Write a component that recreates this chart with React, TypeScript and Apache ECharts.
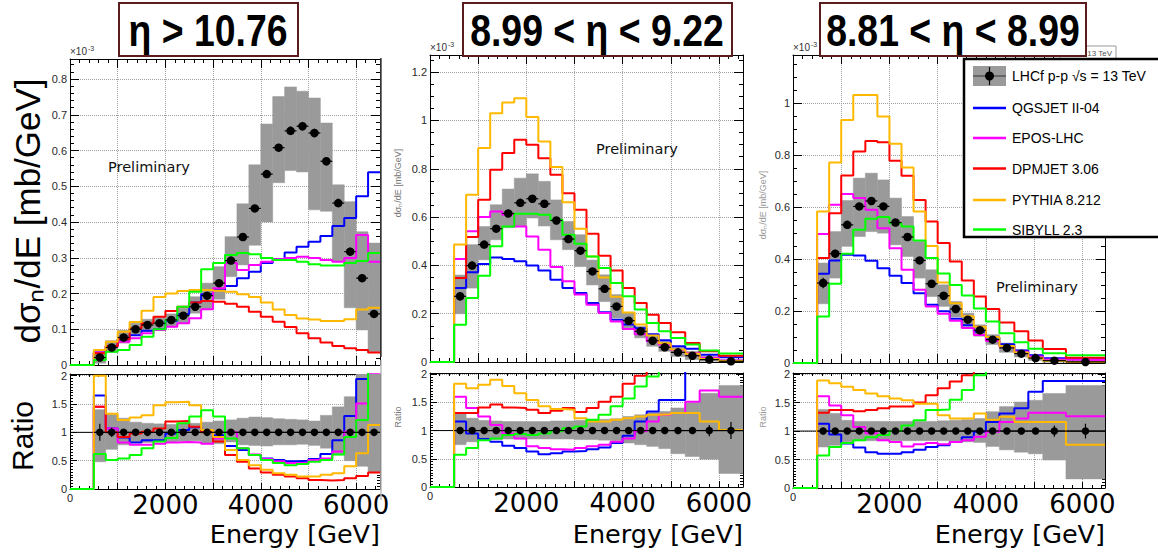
import React, { useEffect, useRef } from "react";
import * as echarts from "echarts";

// ---------------- data ----------------
const MODEL_NAMES = ["QGSJET II-04", "EPOS-LHC", "DPMJET 3.06", "PYTHIA 8.212", "SIBYLL 2.3"];
const MODEL_COLORS = ["#0000ff", "#ff00ff", "#ff0000", "#ffb900", "#00ff00"];
const DATA_LABEL = "LHCf p-p √s = 13 TeV";
const PANEL_TITLES = ["η > 10.76", "8.99 < η < 9.22", "8.81 < η < 8.99"];
const X_TICK_LABELS = [2000, 4000, 6000];

// Panel 1 : eta > 10.76  (units 1e-3 mb/GeV)
const P1_EDGES = [500, 750, 1000, 1250, 1500, 1750, 2000, 2250, 2500, 2750, 3000, 3250, 3500, 3750, 4000, 4250, 4500, 4750, 5000, 5250, 5500, 5750, 6000, 6250, 6500];
const P1_DATA = [0.021, 0.049, 0.077, 0.100, 0.112, 0.117, 0.126, 0.138, 0.163, 0.194, 0.229, 0.292, 0.358, 0.438, 0.534, 0.608, 0.655, 0.668, 0.649, 0.570, 0.453, 0.317, 0.243, 0.143];
const P1_ERR = [0.006, 0.006, 0.006, 0.006, 0.006, 0.006, 0.007, 0.007, 0.007, 0.008, 0.008, 0.009, 0.009, 0.010, 0.010, 0.011, 0.012, 0.012, 0.012, 0.012, 0.012, 0.012, 0.011, 0.010];
const P1_SYS_LO = [0.005, 0.035, 0.061, 0.085, 0.093, 0.098, 0.107, 0.117, 0.145, 0.155, 0.184, 0.247, 0.280, 0.335, 0.400, 0.510, 0.544, 0.540, 0.434, 0.430, 0.290, 0.160, 0.098, 0.037];
const P1_SYS_HI = [0.037, 0.068, 0.097, 0.117, 0.128, 0.134, 0.143, 0.159, 0.191, 0.229, 0.275, 0.359, 0.451, 0.560, 0.674, 0.751, 0.778, 0.766, 0.747, 0.677, 0.504, 0.457, 0.373, 0.341];
const P1_QGSJET = [0.035, 0.053, 0.071, 0.083, 0.096, 0.100, 0.124, 0.142, 0.175, 0.198, 0.210, 0.221, 0.243, 0.261, 0.285, 0.296, 0.315, 0.331, 0.345, 0.361, 0.389, 0.411, 0.472, 0.539];
const P1_EPOS = [0.035, 0.051, 0.065, 0.075, 0.089, 0.098, 0.107, 0.117, 0.131, 0.156, 0.215, 0.285, 0.266, 0.280, 0.289, 0.296, 0.299, 0.303, 0.299, 0.294, 0.289, 0.299, 0.364, 0.289];
const P1_DPMJET = [0.033, 0.053, 0.072, 0.103, 0.117, 0.135, 0.151, 0.163, 0.175, 0.179, 0.177, 0.171, 0.163, 0.149, 0.135, 0.121, 0.106, 0.089, 0.075, 0.063, 0.053, 0.047, 0.042, 0.035];
const P1_PYTHIA = [0.042, 0.065, 0.093, 0.120, 0.152, 0.190, 0.200, 0.207, 0.210, 0.210, 0.208, 0.205, 0.198, 0.190, 0.175, 0.155, 0.140, 0.130, 0.127, 0.123, 0.123, 0.128, 0.155, 0.160];
const P1_SIBYLL = [0.014, 0.037, 0.042, 0.056, 0.079, 0.100, 0.126, 0.163, 0.205, 0.268, 0.285, 0.308, 0.313, 0.310, 0.299, 0.294, 0.294, 0.289, 0.282, 0.278, 0.278, 0.285, 0.291, 0.313];
const P1_R_QGSJET = [1.65, 1.07, 0.91, 0.82, 0.86, 0.86, 0.98, 1.04, 1.09, 1.01, 0.95, 0.76, 0.69, 0.60, 0.54, 0.51, 0.49, 0.50, 0.53, 0.62, 0.86, 1.29, 1.94, 3.70];
const P1_R_EPOS = [1.45, 1.07, 0.82, 0.78, 0.78, 0.80, 0.82, 0.83, 0.82, 0.80, 0.89, 1.00, 0.72, 0.61, 0.53, 0.49, 0.46, 0.46, 0.51, 0.54, 0.66, 1.01, 1.51, 2.05];
const P1_R_DPMJET = [1.45, 1.00, 0.92, 0.98, 1.01, 1.07, 1.19, 1.20, 1.10, 1.00, 0.84, 0.60, 0.48, 0.36, 0.29, 0.25, 0.22, 0.19, 0.16, 0.15, 0.16, 0.19, 0.23, 0.29];
const P1_R_PYTHIA = [2.00, 1.33, 1.22, 1.26, 1.30, 1.48, 1.53, 1.54, 1.48, 1.04, 0.92, 0.69, 0.51, 0.42, 0.34, 0.28, 0.25, 0.22, 0.22, 0.25, 0.28, 0.40, 0.63, 1.13];
const P1_R_SIBYLL = [0.62, 0.51, 0.54, 0.60, 0.72, 0.84, 0.90, 1.16, 1.28, 1.39, 1.28, 0.89, 0.72, 0.60, 0.51, 0.46, 0.42, 0.44, 0.48, 0.51, 0.61, 0.92, 1.22, 2.20];
const P1_R_SYS_LO = [0.48, 0.70, 0.78, 0.82, 0.82, 0.83, 0.83, 0.84, 0.85, 0.80, 0.80, 0.83, 0.78, 0.77, 0.76, 0.78, 0.78, 0.79, 0.77, 0.72, 0.60, 0.50, 0.40, 0.30];
const P1_R_SYS_HI = [1.40, 1.32, 1.25, 1.18, 1.16, 1.15, 1.14, 1.15, 1.16, 1.18, 1.20, 1.22, 1.25, 1.27, 1.26, 1.24, 1.23, 1.22, 1.20, 1.30, 1.45, 1.63, 2.03, 2.03];
const P1_R_ERR = [0.15, 0.08, 0.05, 0.04, 0.03, 0.03, 0.03, 0.03, 0.03, 0.03, 0.03, 0.03, 0.03, 0.03, 0.02, 0.02, 0.02, 0.02, 0.02, 0.02, 0.03, 0.03, 0.04, 0.06];

// Panel 2 : 8.99 < eta < 9.22
const P2_EDGES = [500, 750, 1000, 1250, 1500, 1750, 2000, 2250, 2500, 2750, 3000, 3250, 3500, 3750, 4000, 4250, 4500, 4750, 5000, 5300, 5600, 6000, 6500];
const P2_DATA = [0.272, 0.399, 0.486, 0.552, 0.615, 0.659, 0.676, 0.655, 0.586, 0.509, 0.461, 0.375, 0.303, 0.230, 0.171, 0.127, 0.088, 0.061, 0.040, 0.026, 0.010, 0.003];
const P2_ERR = [0.018, 0.016, 0.015, 0.014, 0.013, 0.013, 0.013, 0.013, 0.012, 0.011, 0.011, 0.010, 0.009, 0.008, 0.007, 0.006, 0.005, 0.004, 0.004, 0.003, 0.002, 0.002];
const P2_SYS_LO = [0.200, 0.306, 0.423, 0.506, 0.556, 0.563, 0.596, 0.563, 0.506, 0.465, 0.395, 0.319, 0.250, 0.182, 0.141, 0.100, 0.065, 0.044, 0.023, 0.010, 0.003, 0.000];
const P2_SYS_HI = [0.360, 0.486, 0.561, 0.651, 0.716, 0.761, 0.779, 0.748, 0.671, 0.582, 0.527, 0.422, 0.361, 0.279, 0.203, 0.148, 0.113, 0.085, 0.061, 0.044, 0.023, 0.010];
const P2_QGSJET = [0.306, 0.372, 0.406, 0.433, 0.426, 0.417, 0.399, 0.379, 0.341, 0.306, 0.286, 0.244, 0.206, 0.175, 0.155, 0.140, 0.115, 0.090, 0.065, 0.055, 0.030, 0.020];
const P2_EPOS = [0.426, 0.541, 0.600, 0.623, 0.610, 0.561, 0.520, 0.465, 0.393, 0.334, 0.279, 0.237, 0.203, 0.168, 0.137, 0.115, 0.086, 0.072, 0.050, 0.036, 0.018, 0.006];
const P2_DPMJET = [0.348, 0.517, 0.672, 0.796, 0.865, 0.920, 0.899, 0.844, 0.775, 0.699, 0.630, 0.531, 0.440, 0.379, 0.306, 0.244, 0.196, 0.161, 0.123, 0.079, 0.044, 0.026];
const P2_PYTHIA = [0.486, 0.692, 0.886, 1.030, 1.074, 1.092, 1.014, 0.913, 0.807, 0.661, 0.552, 0.437, 0.350, 0.270, 0.205, 0.155, 0.110, 0.078, 0.052, 0.034, 0.012, 0.004];
const P2_SIBYLL = [0.154, 0.265, 0.357, 0.479, 0.561, 0.614, 0.614, 0.610, 0.589, 0.527, 0.490, 0.437, 0.389, 0.327, 0.272, 0.217, 0.161, 0.127, 0.099, 0.072, 0.048, 0.035];
const P2_R_QGSJET = [1.16, 0.95, 0.85, 0.80, 0.73, 0.69, 0.63, 0.58, 0.60, 0.63, 0.64, 0.67, 0.70, 0.78, 0.91, 1.16, 1.34, 1.54, 1.54, 2.20, 2.60, 3.00];
const P2_R_EPOS = [1.60, 1.40, 1.25, 1.10, 0.95, 0.86, 0.72, 0.69, 0.67, 0.66, 0.69, 0.72, 0.75, 0.80, 0.86, 0.99, 1.16, 1.28, 1.31, 1.51, 1.71, 1.60];
const P2_R_DPMJET = [1.31, 1.31, 1.41, 1.46, 1.41, 1.40, 1.37, 1.31, 1.35, 1.40, 1.33, 1.40, 1.51, 1.60, 1.83, 1.97, 2.30, 2.70, 3.00, 3.20, 4.00, 6.00];
const P2_R_PYTHIA = [1.83, 1.75, 1.81, 1.90, 1.79, 1.66, 1.54, 1.43, 1.38, 1.37, 1.22, 1.16, 1.16, 1.19, 1.22, 1.25, 1.28, 1.29, 1.31, 1.31, 1.16, 1.01];
const P2_R_SIBYLL = [0.57, 0.69, 0.83, 0.86, 0.92, 0.94, 0.92, 0.95, 0.99, 1.04, 1.07, 1.19, 1.28, 1.43, 1.57, 1.78, 1.96, 2.40, 2.80, 3.00, 4.00, 5.00];
const P2_R_SYS_LO = [0.75, 0.80, 0.83, 0.84, 0.85, 0.85, 0.85, 0.85, 0.85, 0.85, 0.84, 0.84, 0.83, 0.82, 0.78, 0.75, 0.72, 0.68, 0.59, 0.54, 0.49, 0.24];
const P2_R_SYS_HI = [1.31, 1.22, 1.18, 1.17, 1.16, 1.16, 1.16, 1.16, 1.17, 1.17, 1.18, 1.19, 1.20, 1.21, 1.25, 1.28, 1.32, 1.34, 1.40, 1.49, 1.66, 1.80];
const P2_R_ERR = [0.06, 0.04, 0.03, 0.03, 0.03, 0.03, 0.03, 0.03, 0.03, 0.03, 0.03, 0.03, 0.03, 0.03, 0.03, 0.03, 0.04, 0.04, 0.05, 0.05, 0.10, 0.15];

// Panel 3 : 8.81 < eta < 8.99
const P3_EDGES = [500, 750, 1000, 1250, 1500, 1750, 2000, 2250, 2500, 2750, 3000, 3250, 3500, 3750, 4000, 4280, 4590, 4880, 5180, 5660, 6470];
const P3_DATA = [0.308, 0.421, 0.532, 0.603, 0.624, 0.603, 0.541, 0.485, 0.395, 0.305, 0.259, 0.208, 0.167, 0.126, 0.090, 0.058, 0.036, 0.019, 0.009, 0.004];
const P3_ERR = [0.020, 0.016, 0.015, 0.014, 0.014, 0.014, 0.013, 0.012, 0.011, 0.010, 0.009, 0.008, 0.007, 0.006, 0.005, 0.004, 0.004, 0.003, 0.002, 0.002];
const P3_SYS_LO = [0.228, 0.327, 0.449, 0.487, 0.506, 0.500, 0.455, 0.410, 0.327, 0.256, 0.218, 0.177, 0.141, 0.103, 0.071, 0.041, 0.023, 0.010, 0.003, 0.001];
const P3_SYS_HI = [0.385, 0.506, 0.626, 0.712, 0.731, 0.705, 0.635, 0.564, 0.468, 0.359, 0.301, 0.237, 0.192, 0.147, 0.109, 0.077, 0.051, 0.028, 0.015, 0.009];
const P3_QGSJET = [0.344, 0.395, 0.417, 0.414, 0.394, 0.365, 0.336, 0.308, 0.269, 0.224, 0.199, 0.170, 0.145, 0.120, 0.098, 0.072, 0.048, 0.030, 0.018, 0.014];
const P3_EPOS = [0.497, 0.609, 0.651, 0.635, 0.590, 0.519, 0.442, 0.359, 0.282, 0.218, 0.190, 0.163, 0.135, 0.108, 0.085, 0.064, 0.043, 0.025, 0.013, 0.012];
const P3_DPMJET = [0.404, 0.577, 0.722, 0.814, 0.855, 0.850, 0.779, 0.721, 0.628, 0.545, 0.462, 0.391, 0.318, 0.256, 0.208, 0.156, 0.122, 0.087, 0.054, 0.020];
const P3_PYTHIA = [0.583, 0.772, 0.936, 1.032, 1.032, 0.949, 0.844, 0.753, 0.583, 0.451, 0.310, 0.230, 0.180, 0.140, 0.100, 0.065, 0.040, 0.020, 0.009, 0.004];
const P3_SIBYLL = [0.179, 0.305, 0.421, 0.513, 0.555, 0.562, 0.538, 0.526, 0.472, 0.404, 0.345, 0.300, 0.260, 0.210, 0.160, 0.115, 0.080, 0.055, 0.038, 0.030];
const P3_R_QGSJET = [1.13, 0.94, 0.78, 0.71, 0.63, 0.60, 0.60, 0.63, 0.67, 0.72, 0.75, 0.81, 0.89, 0.99, 1.16, 1.31, 1.40, 1.69, 1.88, 1.88];
const P3_R_EPOS = [1.61, 1.45, 1.28, 1.07, 0.96, 0.84, 0.81, 0.73, 0.77, 0.79, 0.77, 0.81, 0.84, 0.90, 0.99, 1.16, 1.22, 1.32, 1.32, 1.26];
const P3_R_DPMJET = [1.32, 1.37, 1.37, 1.35, 1.37, 1.40, 1.43, 1.43, 1.50, 1.63, 1.75, 1.87, 1.98, 2.20, 2.40, 2.70, 3.20, 4.50, 6.00, 5.00];
const P3_R_PYTHIA = [1.89, 1.84, 1.78, 1.72, 1.66, 1.61, 1.57, 1.54, 1.48, 1.48, 1.28, 1.22, 1.22, 1.31, 1.20, 1.25, 1.16, 1.16, 1.16, 0.76];
const P3_R_SIBYLL = [0.57, 0.72, 0.79, 0.84, 0.89, 0.93, 1.00, 1.10, 1.19, 1.37, 1.38, 1.55, 1.72, 1.98, 2.30, 2.60, 3.00, 3.50, 4.00, 5.00];
const P3_R_SYS_LO = [0.72, 0.75, 0.81, 0.83, 0.83, 0.83, 0.83, 0.83, 0.83, 0.83, 0.83, 0.82, 0.81, 0.80, 0.73, 0.67, 0.63, 0.60, 0.49, 0.16];
const P3_R_SYS_HI = [1.38, 1.31, 1.19, 1.17, 1.17, 1.17, 1.17, 1.17, 1.17, 1.17, 1.18, 1.19, 1.20, 1.22, 1.34, 1.43, 1.51, 1.54, 1.66, 1.80];
const P3_R_ERR = [0.06, 0.04, 0.03, 0.03, 0.03, 0.03, 0.03, 0.03, 0.03, 0.03, 0.03, 0.03, 0.03, 0.03, 0.03, 0.03, 0.04, 0.05, 0.10, 0.13];

const PANELS = [
  {
    edges: P1_EDGES, data: P1_DATA, err: P1_ERR, sysLo: P1_SYS_LO, sysHi: P1_SYS_HI,
    models: [P1_QGSJET, P1_EPOS, P1_DPMJET, P1_PYTHIA, P1_SIBYLL],
    ratios: [P1_R_QGSJET, P1_R_EPOS, P1_R_DPMJET, P1_R_PYTHIA, P1_R_SIBYLL],
    rLo: P1_R_SYS_LO, rHi: P1_R_SYS_HI, rErr: P1_R_ERR,
  },
  {
    edges: P2_EDGES, data: P2_DATA, err: P2_ERR, sysLo: P2_SYS_LO, sysHi: P2_SYS_HI,
    models: [P2_QGSJET, P2_EPOS, P2_DPMJET, P2_PYTHIA, P2_SIBYLL],
    ratios: [P2_R_QGSJET, P2_R_EPOS, P2_R_DPMJET, P2_R_PYTHIA, P2_R_SIBYLL],
    rLo: P2_R_SYS_LO, rHi: P2_R_SYS_HI, rErr: P2_R_ERR,
  },
  {
    edges: P3_EDGES, data: P3_DATA, err: P3_ERR, sysLo: P3_SYS_LO, sysHi: P3_SYS_HI,
    models: [P3_QGSJET, P3_EPOS, P3_DPMJET, P3_PYTHIA, P3_SIBYLL],
    ratios: [P3_R_QGSJET, P3_R_EPOS, P3_R_DPMJET, P3_R_PYTHIA, P3_R_SIBYLL],
    rLo: P3_R_SYS_LO, rHi: P3_R_SYS_HI, rErr: P3_R_ERR,
  },
];

// ---------------- layout ----------------
const LAYOUT = [
  { top: { left: 70, top: 59, width: 310, height: 306 }, ratio: { left: 70, top: 374, width: 310, height: 115 }, yMax: 0.856, yInt: 0.1, yMinor: 5, xMax: 6500, rMax: 2.03 },
  { top: { left: 430, top: 55, width: 313, height: 307 }, ratio: { left: 430, top: 373, width: 313, height: 114 }, yMax: 1.271, yInt: 0.2, yMinor: 4, xMax: 6500, rMax: 2.02 },
  { top: { left: 793, top: 55, width: 312, height: 308 }, ratio: { left: 793, top: 373, width: 312, height: 115 }, yMax: 1.186, yInt: 0.2, yMinor: 4, xMax: 6470, rMax: 2.02 },
];
const TITLE_BOXES = [
  { x: 119, w: 179, cx: 208 },
  { x: 463, w: 269, cx: 597 },
  { x: 820, w: 266, cx: 953 },
];
const PRELIM_POS = [[149, 167], [637, 149], [1037, 287]];
const EXP_POS = [[70, 56], [430, 52], [793, 52]];

const FONT = "Liberation Sans, Arial, Helvetica, sans-serif";
const WIDE = "DejaVu Sans, Verdana, sans-serif";
const GRID_LINE = { show: true, lineStyle: { color: "#a0a0a0", type: "dotted", width: 1 } };

const isMult = (v: number, step: number) => Math.abs(v / step - Math.round(v / step)) < 1e-6;
const fmtNum = (v: number) => String(+v.toFixed(2));

function stepPoints(edges: number[], vals: number[]) {
  const pts: number[][] = [[0, 0], [edges[0], 0]];
  for (let i = 0; i < vals.length; i++) {
    pts.push([edges[i], vals[i]], [edges[i + 1], vals[i]]);
  }
  return pts;
}

function xAxisPair(gridIndex: number, max: number, withLabels: boolean, small: boolean) {
  const common: any = {
    type: "value", gridIndex, min: 0, max, interval: 1000,
    axisLine: { show: true, onZero: false, lineStyle: { color: "#000", width: 1 } },
    axisTick: { show: true, inside: true, length: small ? 6 : 9, lineStyle: { color: "#000" } },
    minorTick: { show: true, splitNumber: 5, length: small ? 3 : 4, lineStyle: { color: "#000" } },
    axisLabel: { show: false },
    splitLine: { show: false },
  };
  const bottom: any = { ...common, position: "bottom", splitLine: GRID_LINE };
  if (withLabels) {
    bottom.axisLabel = {
      show: true, margin: 3, showMaxLabel: false,
      formatter: (v: number) => (v === 0 ? "{s|0}" : X_TICK_LABELS.indexOf(v) >= 0 ? `{b|${v}}` : ""),
      rich: {
        s: { fontSize: 11, color: "#222", fontFamily: FONT },
        b: { fontSize: 26, color: "#000", fontFamily: WIDE },
      },
    };
  }
  return [bottom, { ...common, position: "top" }];
}

function yAxisPair(gridIndex: number, max: number, step: number, minor: number, small: boolean) {
  const common: any = {
    type: "value", gridIndex, min: 0, max, interval: step,
    axisLine: { show: true, onZero: false, lineStyle: { color: "#000", width: 1 } },
    axisTick: { show: true, inside: true, length: small ? 7 : 9, lineStyle: { color: "#000" } },
    minorTick: { show: true, splitNumber: minor, length: small ? 3 : 4, lineStyle: { color: "#000" } },
    axisLabel: { show: false },
    splitLine: { show: false },
  };
  const left: any = {
    ...common, position: "left", splitLine: GRID_LINE,
    axisLabel: {
      show: true, margin: 3, showMaxLabel: false, fontSize: 11, color: "#2a2a2a", fontFamily: FONT,
      formatter: (v: number) => (isMult(v, step) ? fmtNum(v) : ""),
    },
  };
  return [left, { ...common, position: "right" }];
}

function bandSeries(xi: number, yi: number, edges: number[], lo: number[], hi: number[]) {
  return {
    type: "custom", xAxisIndex: xi, yAxisIndex: yi, z: 1, silent: true, clip: true,
    data: lo.map((l, i) => [edges[i], edges[i + 1], l, hi[i]]),
    encode: { x: [0, 1], y: [2, 3] },
    renderItem: (params: any, api: any) => {
      const a = api.coord([api.value(0), api.value(3)]);
      const b = api.coord([api.value(1), api.value(2)]);
      return {
        type: "rect",
        shape: { x: a[0], y: a[1], width: b[0] - a[0], height: b[1] - a[1] },
        style: { fill: "#9a9a9a", stroke: "#9a9a9a", lineWidth: 0.5 },
      };
    },
  };
}

function errSeries(xi: number, yi: number, edges: number[], vals: number[], errs: number[]) {
  return {
    type: "custom", xAxisIndex: xi, yAxisIndex: yi, z: 5, silent: true, clip: true,
    data: vals.map((v, i) => [edges[i], edges[i + 1], (edges[i] + edges[i + 1]) / 2, v, errs[i]]),
    encode: { x: [0, 1, 2], y: [3] },
    renderItem: (params: any, api: any) => {
      const x0 = api.value(0), x1 = api.value(1), xc = api.value(2), y = api.value(3), e = api.value(4);
      const a = api.coord([x0, y]), b = api.coord([x1, y]);
      const c = api.coord([xc, y - e]), d = api.coord([xc, y + e]);
      return {
        type: "group",
        children: [
          { type: "line", shape: { x1: a[0], y1: a[1], x2: b[0], y2: b[1] }, style: { stroke: "#000", lineWidth: 1.2 } },
          { type: "line", shape: { x1: c[0], y1: c[1], x2: d[0], y2: d[1] }, style: { stroke: "#000", lineWidth: 1.2 } },
        ],
      };
    },
  };
}

function modelSeries(xi: number, yi: number, edges: number[], vals: number[], color: string, name: string) {
  return {
    type: "line", name, xAxisIndex: xi, yAxisIndex: yi, z: 4, silent: true, clip: true,
    data: stepPoints(edges, vals), showSymbol: false, symbol: "none",
    lineStyle: { color, width: 2 }, itemStyle: { color },
  };
}

function dotSeries(xi: number, yi: number, edges: number[], vals: number[], size: number) {
  return {
    type: "scatter", xAxisIndex: xi, yAxisIndex: yi, z: 6, silent: true,
    data: vals.map((v, i) => [(edges[i] + edges[i + 1]) / 2, v]),
    symbolSize: size, itemStyle: { color: "#000", opacity: 1 },
  };
}

function txt(x: number, y: number, text: string, fontSize: number, o: any = {}) {
  return {
    type: "text", x, y, rotation: o.rotation || 0, scaleX: o.scaleX || 1, z: 50,
    style: {
      text, x: 0, y: 0, fontSize, fontFamily: o.family || FONT, fontWeight: o.weight || "normal",
      fill: o.color || "#000", align: o.align || "center", verticalAlign: o.va || "middle",
    },
  };
}

function buildOption() {
  const grids: any[] = [];
  const xAxes: any[] = [];
  const yAxes: any[] = [];
  const series: any[] = [];

  PANELS.forEach((P, p) => {
    const L = LAYOUT[p];
    const gTop = 2 * p;
    const gRat = 2 * p + 1;
    grids.push({ ...L.top, containLabel: false, outerBoundsMode: "none" });
    grids.push({ ...L.ratio, containLabel: false, outerBoundsMode: "none" });
    xAxes.push(...xAxisPair(gTop, L.xMax, false, false));
    xAxes.push(...xAxisPair(gRat, L.xMax, true, true));
    yAxes.push(...yAxisPair(gTop, L.yMax, L.yInt, L.yMinor, false));
    yAxes.push(...yAxisPair(gRat, L.rMax, 0.5, 10, true));

    const xT = 2 * gTop, yT = 2 * gTop;
    const xR = 2 * gRat, yR = 2 * gRat;

    // spectrum
    series.push(bandSeries(xT, yT, P.edges, P.sysLo, P.sysHi));
    P.models.forEach((m, k) => series.push(modelSeries(xT, yT, P.edges, m, MODEL_COLORS[k], MODEL_NAMES[k])));
    series.push(errSeries(xT, yT, P.edges, P.data, P.err));
    series.push(dotSeries(xT, yT, P.edges, P.data, 8.5));

    // ratio
    const ones = P.data.map(() => 1);
    series.push(bandSeries(xR, yR, P.edges, P.rLo, P.rHi));
    series.push({
      type: "line", xAxisIndex: xR, yAxisIndex: yR, z: 2, silent: true, symbol: "none",
      data: [[0, 1], [L.xMax, 1]], lineStyle: { color: "#000", width: 1 },
    });
    P.ratios.forEach((m, k) => series.push(modelSeries(xR, yR, P.edges, m, MODEL_COLORS[k], MODEL_NAMES[k])));
    series.push(errSeries(xR, yR, P.edges, ones, P.rErr));
    series.push(dotSeries(xR, yR, P.edges, ones, 7.5));
  });

  const g: any[] = [];
  // faint remnants of neighbouring pads
  g.push({ type: "line", z: 40, shape: { x1: 381, y1: 58, x2: 381, y2: 357 }, style: { stroke: "#444", lineWidth: 1.5 } });
  g.push({ type: "line", z: 40, shape: { x1: 381, y1: 360, x2: 381, y2: 500 }, style: { stroke: "#bbb", lineWidth: 1.5 } });
  g.push(txt(398, 183, "dσₙ/dE [mb/GeV]", 9, { rotation: Math.PI / 2, color: "#777" }));
  g.push(txt(398, 417, "Ratio", 9, { rotation: Math.PI / 2, color: "#777" }));
  g.push(txt(763, 205, "dσₙ/dE [mb/GeV]", 9, { rotation: Math.PI / 2, color: "#999" }));
  g.push(txt(763, 417, "Ratio", 9, { rotation: Math.PI / 2, color: "#999" }));

  // y titles on first panel
  g.push(txt(27, 211, "dσₙ/dE [mb/GeV]", 35, { rotation: Math.PI / 2 }));
  g.push(txt(22, 436, "Ratio", 30, { rotation: Math.PI / 2 }));

  // x titles
  LAYOUT.forEach((L) => {
    g.push(txt(L.top.left + L.top.width, 534, "Energy [GeV]", 25.5, { align: "right", family: WIDE }));
  });

  // x10^-3 exponents
  EXP_POS.forEach(([x, y]) => {
    g.push(txt(x, y, "×10", 10, { align: "left", va: "bottom", color: "#333" }));
    g.push(txt(x + 18, y - 4, "-3", 7, { align: "left", va: "bottom", color: "#333" }));
  });

  // Preliminary
  PRELIM_POS.forEach(([x, y]) => g.push(txt(x, y, "Preliminary", 14.5, { family: WIDE, color: "#111" })));

  // old legend remnant
  g.push({ type: "rect", z: 41, shape: { x: 1060, y: 46, width: 56, height: 14 }, style: { fill: "#fff", stroke: "#999", lineWidth: 1 } });
  g.push(txt(1112, 53, "13 TeV", 8, { align: "right", color: "#555" }));

  // title boxes
  TITLE_BOXES.forEach((b, i) => {
    g.push({ type: "rect", z: 60, shape: { x: b.x, y: 3, width: b.w, height: 53 }, style: { fill: "#fff", stroke: "#5a1c1c", lineWidth: 2 } });
    const t: any = txt(b.cx, 31, PANEL_TITLES[i], 44, { weight: "bold", scaleX: 0.85 });
    t.z = 61;
    g.push(t);
  });

  // legend
  const LX = 964, LY = 59;
  g.push({ type: "rect", z: 70, shape: { x: LX, y: LY, width: 200, height: 178 }, style: { fill: "#fff", stroke: "#000", lineWidth: 2.5 } });
  const rowY = [76, 108, 138, 168.5, 200, 229.5];
  g.push({ type: "rect", z: 71, shape: { x: 973, y: 66, width: 33, height: 20 }, style: { fill: "#9a9a9a" } });
  g.push({ type: "line", z: 72, shape: { x1: 973, y1: rowY[0], x2: 1006, y2: rowY[0] }, style: { stroke: "#333", lineWidth: 1.2 } });
  g.push({ type: "line", z: 72, shape: { x1: 989.5, y1: 67, x2: 989.5, y2: 85 }, style: { stroke: "#000", lineWidth: 1.2 } });
  g.push({ type: "circle", z: 73, shape: { cx: 989.5, cy: rowY[0], r: 4.5 }, style: { fill: "#000" } });
  const lt: any = txt(1012, rowY[0], DATA_LABEL, 14, { align: "left" });
  lt.z = 73;
  g.push(lt);
  MODEL_NAMES.forEach((n, k) => {
    const y = rowY[k + 1];
    g.push({ type: "line", z: 72, shape: { x1: 973, y1: y, x2: 1006, y2: y }, style: { stroke: MODEL_COLORS[k], lineWidth: 2.5 } });
    const t: any = txt(1012, y, n, 14, { align: "left" });
    t.z = 73;
    g.push(t);
  });

  return {
    animation: false,
    backgroundColor: "#fff",
    textStyle: { fontFamily: FONT },
    grid: grids,
    xAxis: xAxes,
    yAxis: yAxes,
    series,
    graphic: { elements: g },
  };
}

export default function App() {
  const ref = useRef<HTMLDivElement>(null);
  useEffect(() => {
    if (!ref.current) return;
    const chart = echarts.init(ref.current, null, { renderer: "svg" });
    chart.setOption(buildOption() as any);
    return () => chart.dispose();
  }, []);
  return (
    <div
      ref={ref}
      style={{ position: "absolute", left: 0, top: 0, width: 1158, height: 556, background: "#fff" }}
    />
  );
}
